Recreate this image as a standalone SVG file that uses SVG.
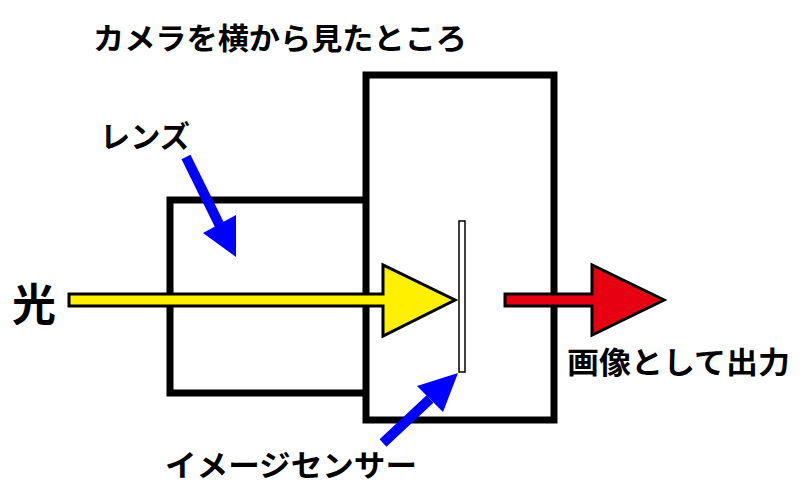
<svg xmlns="http://www.w3.org/2000/svg" width="800" height="500" viewBox="0 0 800 500">
<style>
.box{fill:none;stroke:#000;stroke-width:7}
.t{font-family:"Noto Sans CJK JP","Noto Sans",sans-serif;font-weight:bold;font-size:30px;fill:#000}
.blue{fill:#0000FF;stroke:none}
.arr{stroke:#000;stroke-width:3;stroke-linejoin:miter}
</style>
<rect width="800" height="500" fill="#fff"/>
<g id="title"><text class="t" x="93" y="49" textLength="374" lengthAdjust="spacingAndGlyphs">カメラを横から見たところ</text></g>
<g id="body"><rect class="box" x="366" y="75" width="188" height="345"/></g>
<g id="lens"><polyline class="box" points="366,200 170,200 170,393 366,393"/></g>
<g id="sensor"><rect x="459" y="221" width="6" height="151" fill="#fff" stroke="#000" stroke-width="1.5"/></g>
<g id="connectors">
<polygon class="arr" fill="#FFF000" points="69,294 383,294 383,265 455,300 383,336 383,306 69,306"/>
<polygon class="arr" fill="#E60012" points="505,294 592,294 592,265 664,300 592,335 592,306 505,306"/>
<g id="lens-pointer">
<line x1="186" y1="157" x2="220" y2="226" stroke="#0000FF" stroke-width="10"/>
<polygon class="blue" points="236,257 203,233 236,215"/>
</g>
<g id="sensor-pointer">
<line x1="383" y1="443" x2="430" y2="399" stroke="#0000FF" stroke-width="10"/>
<polygon class="blue" points="458,373 417,386 443,412"/>
</g>
</g>
<g id="labels">
<text class="t" x="100" y="147" textLength="90" lengthAdjust="spacingAndGlyphs">レンズ</text>
<text class="t" x="12" y="321" style="font-size:44px">光</text>
<text class="t" x="567" y="373" textLength="223" lengthAdjust="spacingAndGlyphs">画像として出力</text>
<text class="t" x="165" y="476" textLength="252" lengthAdjust="spacingAndGlyphs">イメージセンサー</text>
</g>
</svg>
